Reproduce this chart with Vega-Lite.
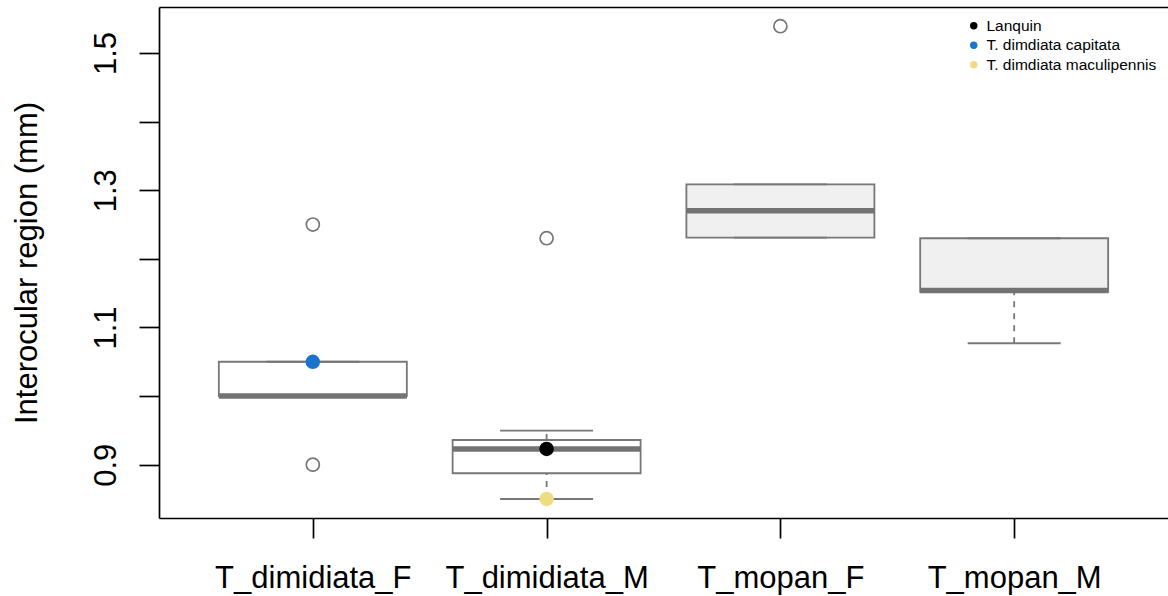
{
  "$schema": "https://vega.github.io/schema/vega-lite/v6.json",
  "autosize": {"type": "none"},
  "width": 1009,
  "height": 511,
  "padding": {"left": 159, "top": 7, "right": 0, "bottom": 78},
  "background": "white",
  "config": {
    "view": {"stroke": null},
    "font": "Liberation Sans",
    "axis": {"labelFont": "Liberation Sans", "titleFont": "Liberation Sans", "labelColor": "black", "titleColor": "black", "grid": false, "labelLimit": 0}
  },
  "datasets": {
    "boxes": [
      {"group": "T_dimidiata_F", "lower": 1.0, "q1": 1.0, "median": 1.0, "q3": 1.05, "upper": 1.05},
      {"group": "T_dimidiata_M", "lower": 0.85, "q1": 0.8875, "median": 0.923, "q3": 0.936, "upper": 0.9495},
      {"group": "T_mopan_F", "lower": 1.231, "q1": 1.231, "median": 1.27, "q3": 1.3085, "upper": 1.3085},
      {"group": "T_mopan_M", "lower": 1.077, "q1": 1.152, "median": 1.154, "q3": 1.23, "upper": 1.23}
    ],
    "outliers": [
      {"group": "T_dimidiata_F", "value": 0.9},
      {"group": "T_dimidiata_F", "value": 1.25},
      {"group": "T_dimidiata_M", "value": 1.23},
      {"group": "T_mopan_F", "value": 1.539}
    ],
    "specimens": [
      {"group": "T_dimidiata_M", "value": 0.923, "population": "Lanquin"},
      {"group": "T_dimidiata_F", "value": 1.05, "population": "T. dimdiata capitata"},
      {"group": "T_dimidiata_M", "value": 0.85, "population": "T. dimdiata maculipennis"}
    ]
  },
  "resolve": {
    "scale": {"fill": "independent", "color": "independent"},
    "axis": {"x": "independent", "y": "independent"}
  },
  "layer": [
    {
      "data": {"name": "boxes"},
      "mark": {"type": "bar", "size": 188, "stroke": "#777777", "strokeWidth": 1.8},
      "encoding": {
        "x": {
          "field": "group", "type": "nominal",
          "scale": {"type": "point", "padding": 0.658, "domain": ["T_dimidiata_F", "T_dimidiata_M", "T_mopan_F", "T_mopan_M"]},
          "axis": {
            "orient": "bottom", "title": null, "labelAngle": 0, "labelFontSize": 31,
            "labelBaseline": "alphabetic", "labelPadding": 49, "labelAlign": "center", "labelLimit": 0,
            "labelOverlap": false,
            "domain": true, "domainColor": "black", "domainWidth": 1.7,
            "ticks": true, "tickColor": "black", "tickWidth": 1.7, "tickSize": 20
          }
        },
        "y": {
          "field": "q1", "type": "quantitative",
          "scale": {"domain": [0.8223, 1.567], "nice": false, "zero": false},
          "axis": {
            "title": "Interocular region (mm)", "titleFontSize": 31, "titleFontWeight": "normal",
            "titleAngle": 270, "titleAlign": "center", "titleBaseline": "alphabetic",
            "titleX": -123, "titleY": 255.5, "titleLimit": 0,
            "values": [0.9, 1.0, 1.1, 1.2, 1.3, 1.4, 1.5],
            "labelExpr": "round(datum.value * 10) % 2 == 1 ? format(datum.value, '.1f') : ''",
            "labelAngle": 270, "labelAlign": "center", "labelBaseline": "alphabetic",
            "labelFontSize": 31, "labelPadding": 24, "labelOverlap": false,
            "domain": true, "domainColor": "black", "domainWidth": 1.7,
            "ticks": true, "tickColor": "black", "tickWidth": 1.7, "tickSize": 20
          }
        },
        "y2": {"field": "q3"},
        "fill": {
          "field": "group", "type": "nominal",
          "scale": {"domain": ["T_dimidiata_F", "T_dimidiata_M", "T_mopan_F", "T_mopan_M"], "range": ["#ffffff", "#ffffff", "#f0f0f0", "#f0f0f0"]},
          "legend": null
        }
      }
    },
    {
      "data": {"name": "boxes"},
      "mark": {"type": "rule", "stroke": "#777777", "strokeWidth": 1.8, "strokeDash": [6, 6]},
      "encoding": {
        "x": {"field": "group", "type": "nominal", "axis": {"orient": "top", "title": null, "labels": false, "ticks": false, "domain": true, "domainColor": "black", "domainWidth": 1.7}},
        "y": {"field": "q3", "type": "quantitative", "axis": null},
        "y2": {"field": "upper"}
      }
    },
    {
      "data": {"name": "boxes"},
      "mark": {"type": "rule", "stroke": "#777777", "strokeWidth": 1.8, "strokeDash": [6, 6]},
      "encoding": {
        "x": {"field": "group", "type": "nominal", "axis": null},
        "y": {"field": "lower", "type": "quantitative", "axis": null},
        "y2": {"field": "q1"}
      }
    },
    {
      "data": {"name": "boxes"},
      "mark": {"type": "tick", "color": "#777777", "size": 93, "thickness": 1.8, "opacity": 1},
      "encoding": {
        "x": {"field": "group", "type": "nominal", "axis": null},
        "y": {"field": "upper", "type": "quantitative", "axis": null}
      }
    },
    {
      "data": {"name": "boxes"},
      "mark": {"type": "tick", "color": "#777777", "size": 93, "thickness": 1.8, "opacity": 1},
      "encoding": {
        "x": {"field": "group", "type": "nominal", "axis": null},
        "y": {"field": "lower", "type": "quantitative", "axis": null}
      }
    },
    {
      "data": {"name": "boxes"},
      "mark": {"type": "tick", "color": "#737373", "size": 188, "thickness": 5.5, "opacity": 1},
      "encoding": {
        "x": {"field": "group", "type": "nominal", "axis": null},
        "y": {"field": "median", "type": "quantitative", "axis": null}
      }
    },
    {
      "data": {"name": "outliers"},
      "mark": {"type": "point", "shape": "circle", "filled": false, "stroke": "#777777", "strokeWidth": 1.7, "size": 170, "opacity": 1},
      "encoding": {
        "x": {"field": "group", "type": "nominal", "axis": null},
        "y": {"field": "value", "type": "quantitative", "axis": null}
      }
    },
    {
      "data": {"name": "specimens"},
      "mark": {"type": "point", "shape": "circle", "filled": true, "size": 210, "opacity": 1},
      "encoding": {
        "x": {"field": "group", "type": "nominal", "axis": null},
        "y": {"field": "value", "type": "quantitative", "axis": null},
        "color": {
          "field": "population", "type": "nominal",
          "scale": {"domain": ["Lanquin", "T. dimdiata capitata", "T. dimdiata maculipennis"], "range": ["#000000", "#1874cd", "#eedc82"]},
          "legend": {
            "title": null, "orient": "none", "legendX": 807, "legendY": 11, "padding": 0,
            "symbolType": "circle", "symbolSize": 55, "symbolStrokeWidth": 0,
            "labelFont": "Liberation Sans", "labelFontSize": 15.5, "labelColor": "black",
            "labelOffset": 5, "labelLimit": 0, "rowPadding": 2.5
          }
        }
      }
    }
  ]
}
